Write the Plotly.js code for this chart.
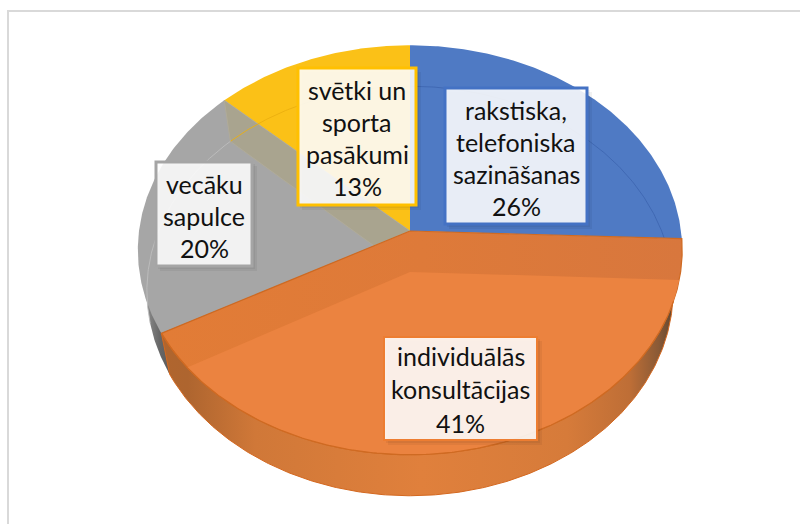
<!DOCTYPE html>
<html><head><meta charset="utf-8">
<script src="https://cdn.plot.ly/plotly-3.0.1.min.js"></script>
<style>html,body{margin:0;padding:0;background:#fff}#c{width:800px;height:524px}</style>
</head><body><div id="c"></div>
<script>
// ---- data ----
var categories = ['rakstiska, telefoniska sazināšanas','individuālās konsultācijas','vecāku sapulce','svētki un sporta pasākumi'];
var values = [25.6, 41.4, 20, 13];
var labelLines = [['rakstiska,','telefoniska','sazināšanas'],['individuālās','konsultācijas'],['vecāku','sapulce'],['svētki un','sporta','pasākumi']];
var faceColors = ['#4F7AC4','#EB8340','#A6A6A6','#FBC117'];
var borderColors = ['#4472C4','#ED7D31','#A5A5A5','#FFC000'];

// ---- geometry of the tilted disc (pixels, axes run 0..800 / 524..0) ----
var CX=410, CY=231, A=271, A_LOW=262, B=203, K=0.0927, DEPTH=41;
function pt(deg,dy,r){ var t=deg*Math.PI/180, s=Math.sin(t), c=Math.cos(t), q=(r===undefined?1:r), w=1+K*c*q, a=dy?A_LOW:A;
  return [CX+a*q*s/w, CY-B*q*c/w+(dy||0)]; }
function arc(d0,d1,dy){ var o=[],n=Math.max(2,Math.ceil(Math.abs(d1-d0)*2)); for(var i=0;i<=n;i++) o.push(pt(d0+(d1-d0)*i/n,dy)); return o; }
function sector(d0,d1,dy){ return [pt(0,dy,0)].concat(arc(d0,d1,dy)).concat([pt(0,dy,0)]); }
var total=values.reduce(function(a,b){return a+b},0), edges=[0];
values.forEach(function(v){edges.push(edges[edges.length-1]+v/total*360)});

function poly(p,o){ var t={type:'scatter',mode:'lines',x:p.map(function(q){return q[0]}),y:p.map(function(q){return q[1]}),
  hoverinfo:'skip',showlegend:false,line:{width:0,color:'rgba(0,0,0,0)'}}; for(var k in o)t[k]=o[k]; return t; }
function yOnLine(a,b,x){ return a[1]+(b[1]-a[1])*(x-a[0])/(b[0]-a[0]); }
function cross(a,b,c,d){ var r=[b[0]-a[0],b[1]-a[1]],s=[d[0]-c[0],d[1]-c[1]],den=r[0]*s[1]-r[1]*s[0],
  u=((c[0]-a[0])*s[1]-(c[1]-a[1])*s[0])/den; return [a[0]+u*r[0],a[1]+u*r[1]]; }

var traces=[];
// side wall of grey slice
traces.push(poly(sector(edges[2],edges[3],DEPTH),{fill:'toself',fillgradient:{type:'horizontal',colorscale:[[0,'#8a8a8a'],[0.05,'#666666'],[0.15,'#4a4a4a'],[1,'#777777']]}}));
// side wall of orange slice
var sidePts=[pt(edges[1])].concat(arc(edges[1],edges[2],DEPTH)).concat([pt(edges[2]),pt(edges[1])]);
traces.push(poly(sidePts,{fill:'toself',line:{width:1,color:'#D4681F'},fillgradient:{type:'horizontal',colorscale:[[0,'#B0652E'],[0.05,'#AE652F'],[0.18,'#D07838'],[0.5,'#E0803C'],[0.78,'#D67B3A'],[0.9,'#BE6E36'],[0.955,'#8A5A36'],[0.985,'#5F4630'],[1,'#C8702F']]}}));
// faces of the blue, grey, yellow slices
[0,2,3].forEach(function(i){ traces.push(poly(sector(edges[i],edges[i+1]),{fill:'toself',fillcolor:faceColors[i]})); });
// inner wall seen through yellow / grey
var yE=pt(edges[3]), yE2=pt(edges[3],DEPTH), apex=pt(0,0,0), apex2=pt(0,DEPTH,0), oL=pt(edges[2]);
var x0=cross(yE2,apex2,apex,oL);
traces.push(poly([yE,apex,x0,yE2,yE],{fill:'toself',fillcolor:'#A9A48F',line:{width:1,color:'#B0AB99'}}));
// back rim seen through the faces
traces.push(poly(arc(edges[0],edges[1],DEPTH).filter(function(p){return p[1]<pt(edges[1])[1]}),{line:{width:1,color:'rgba(60,100,175,0.8)'}}));
traces.push(poly(arc(edges[3],edges[4],DEPTH),{line:{width:1,color:'rgba(235,175,15,0.9)'}}));
traces.push(poly(arc(edges[2],edges[3],DEPTH).filter(function(p){return p[1]<pt(edges[2])[1]-10}),{line:{width:1,color:'rgba(190,190,190,0.9)'}}));
// orange slice: shaded band + lit face
traces.push(poly(sector(edges[1],edges[2]),{fill:'toself',line:{width:1.2,color:'#CF6A22'},fillgradient:{type:'horizontal',colorscale:[[0,'#E27C36'],[0.5,'#DE7A39'],[1,'#D8773D']]}}));
var e1=pt(edges[1],DEPTH), e2=pt(edges[2],DEPTH);
var lit=arc(edges[1],edges[2]).filter(function(p){ return p[1]>=(p[0]>=apex2[0]?yOnLine(apex2,e1,p[0]):yOnLine(apex2,e2,p[0])); });
traces.push(poly([apex2].concat(lit).concat([apex2]),{fill:'toself',fillcolor:faceColors[1]}));
traces.push(poly(arc(edges[1],edges[2]).filter(function(p){return p[1]>300}),{line:{width:1.2,color:'#CF6A22'}}));

// ---- labels ----
var boxes=[[445,88,587,224],[384,337,537,440],[156,162,252,266],[298,68,416,205]];
var lineYs=[[110,142,174,206],[356,389,423],[184,216,248],[90,122,154,186]];
var shapes=[], annotations=[];
shapes.push({type:'line',xref:'x',yref:'y',x0:8,x1:8,y0:10,y1:524,line:{color:'#D9D9D9',width:2},layer:'below'});
shapes.push({type:'line',xref:'x',yref:'y',x0:8,x1:800,y0:11,y1:11,line:{color:'#D9D9D9',width:2},layer:'below'});
boxes.forEach(function(b,i){
  [5,3].forEach(function(off){ shapes.push({type:'rect',x0:b[0]+off-1,x1:b[2]+off,y0:b[1]+off-1,y1:b[3]+off,fillcolor:'rgba(0,0,0,0.05)',line:{width:0}}); });
  shapes.push({type:'rect',x0:b[0],x1:b[2],y0:b[1],y1:b[3],fillcolor:'rgba(255,255,255,0.88)',line:{color:borderColors[i],width:i==1?2:3}});
  var lines=labelLines[i].concat([Math.round(values[i]/total*100)+'%']);
  lines.forEach(function(t,j){ annotations.push({x:(b[0]+b[2])/2,y:lineYs[i][j],xref:'x',yref:'y',text:t,showarrow:false,xanchor:'center',yanchor:'middle',font:{family:'Lato, Carlito, sans-serif',size:25,color:'#111111'}}); });
});
Plotly.newPlot('c',traces,{width:800,height:524,margin:{l:0,r:0,t:0,b:0},paper_bgcolor:'#fff',plot_bgcolor:'#fff',showlegend:false,
  xaxis:{range:[0,800],visible:false,fixedrange:true},yaxis:{range:[524,0],visible:false,fixedrange:true},shapes:shapes,annotations:annotations},{displayModeBar:false,staticPlot:true});
</script></body></html>
